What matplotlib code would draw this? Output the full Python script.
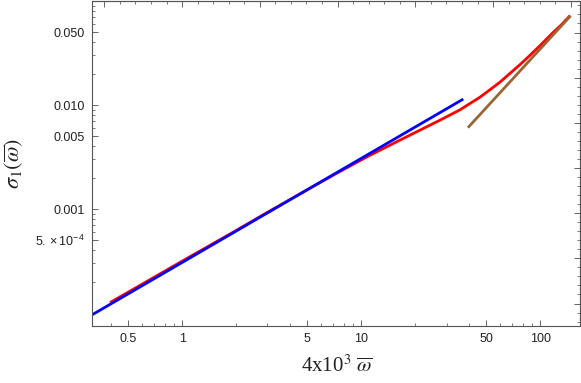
import numpy as np
import matplotlib
matplotlib.use('Agg')
import matplotlib.pyplot as plt

plt.rcParams['font.family'] = ['Liberation Sans', 'DejaVu Sans']
plt.rcParams['mathtext.fontset'] = 'custom'
plt.rcParams['mathtext.rm'] = 'Liberation Sans'
plt.rcParams['mathtext.it'] = 'Liberation Sans:italic'

# data
red_x = [0.396, 1, 2, 3, 5, 7, 10.8, 16.5, 21.4, 27.6, 31.4, 35.7, 40.6, 46.2, 52.6,
         59.8, 68, 77.3, 88, 100, 118, 132, 147]
red_y = [1.26e-4, 3.15e-4, 6.2e-4, 9.3e-4, 1.53e-3, 2.12e-3, 3.18e-3, 4.6e-3, 5.75e-3,
         7.15e-3, 8.02e-3, 9.0e-3, 1.035e-2, 1.191e-2, 1.408e-2, 1.664e-2, 2.02e-2,
         2.45e-2, 3.02e-2, 3.73e-2, 4.97e-2, 5.95e-2, 7.25e-2]
blue_x = [0.314, 37.2]
blue_y = [9.6e-5, 1.14e-2]
brown_x = [39.5, 148]
brown_y = [6.05e-3, 7.2e-2]

x_ticks = [0.5, 1, 5, 10, 50, 100]
x_labels = ['0.5', '1', '5', '10', '50', '100']
y_ticks = [5e-4, 0.001, 0.005, 0.010, 0.050]
y_labels = [r'$5.\times10^{-4}$', '0.001', '0.005', '0.010', '0.050']

xlim = (0.314, 167)
ylim = (7.5e-5, 0.1)

fig = plt.figure(figsize=(5.81, 3.83), dpi=100)
ax = fig.add_axes([92 / 581, 57 / 383, 488 / 581, 325 / 383])

ax.plot(red_x, red_y, color='#ff0000', lw=2.0, solid_capstyle='butt')
ax.plot(blue_x, blue_y, color='#0000ff', lw=2.0, solid_capstyle='butt')
ax.plot(brown_x, brown_y, color='#996633', lw=2.0, solid_capstyle='butt')

ax.set_xscale('log')
ax.set_yscale('log')
ax.set_xlim(xlim)
ax.set_ylim(ylim)

# minor ticks inside each decade
x_minor = [m * 10.0 ** e for e in range(-1, 3) for m in range(2, 10)]
x_minor = [v for v in x_minor if xlim[0] < v < xlim[1] and v not in x_ticks]
y_minor = [m * 10.0 ** e for e in range(-5, -1) for m in range(2, 10)]
y_minor = [v for v in y_minor if 1.5e-4 < v < ylim[1] and v not in y_ticks]

ax.set_xticks(x_ticks)
ax.set_xticklabels(x_labels)
ax.set_xticks(x_minor, minor=True)
ax.set_xticklabels([], minor=True)
ax.set_yticks(y_ticks)
ax.set_yticklabels(y_labels)
ax.set_yticks(y_minor, minor=True)
ax.set_yticklabels([], minor=True)

ax.tick_params(which='both', direction='in', color='#666666', labelsize=9,
               labelcolor='#222222')
ax.tick_params(which='major', length=4.5, width=0.7, pad=5)
ax.tick_params(which='minor', length=2.5, width=0.6)

for s in ax.spines.values():
    s.set_color('#555555')
    s.set_linewidth(0.8)

# frame ticks on top/right, evenly spaced in natural log
top = ax.secondary_xaxis('top')
top.set_xticks(np.exp(np.arange(-1, 6)))
top.set_xticks(np.exp(np.arange(-6, 26) * 0.2), minor=True)
top.set_xticklabels([])
top.set_xticklabels([], minor=True)
right = ax.secondary_yaxis('right')
right.set_yticks(np.exp(np.arange(-9, -2)))
right.set_yticks(np.exp(np.arange(-48, -11) * 0.2), minor=True)
right.set_yticklabels([])
right.set_yticklabels([], minor=True)
for sa in (top, right):
    sa.tick_params(which='both', direction='in', color='#666666')
    sa.tick_params(which='major', length=4.5, width=0.7)
    sa.tick_params(which='minor', length=2.5, width=0.6)
    for s in sa.spines.values():
        s.set_color('#555555')
        s.set_linewidth(0.8)

ax.set_xlabel(r'4x10$^3$ $\overline{\omega}$', fontsize=15, family='Liberation Serif',
              math_fontfamily='stix', color='#222222', va='center')
ax.xaxis.set_label_coords((337 - 92) / 488, -(366 - 326) / 325)
ax.set_ylabel(r'$\sigma_1(\overline{\omega})$', fontsize=16, math_fontfamily='stix',
              color='#222222', va='center')
ax.yaxis.set_label_coords(-(92 - 14) / 488, 0.5)

fig.savefig('out.png', dpi=100)
